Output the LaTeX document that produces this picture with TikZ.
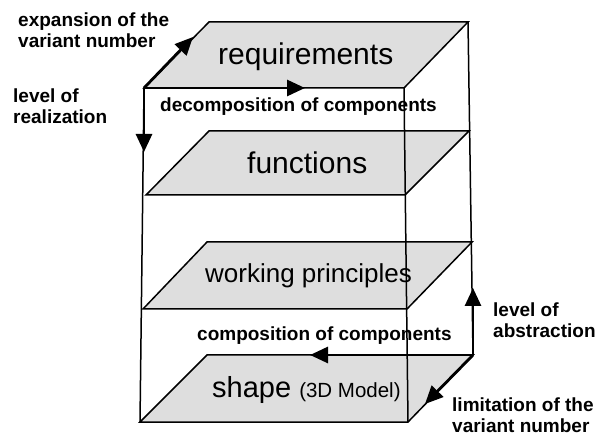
\documentclass[tikz,border=0pt]{standalone}
\usepackage{fontspec}
\setmainfont{Liberation Sans}
\usepackage{tikz}
\usetikzlibrary{arrows.meta}
\newcommand\lvltext{\fontsize{30}{34}\selectfont}
\newcommand\dirtext{\fontsize{19}{21}\selectfont\bfseries}

\begin{document}
\begin{tikzpicture}[x=1pt,y=-1pt]%
        \useasboundingbox (0,0) rectangle (597,435); %%
        \tikzstyle{plane}=[draw,line width=1.5pt,fill=black!13,line join=miter] %%
        \tikzstyle{edge}=[line width=1.5pt] %%
        \tikzstyle{dir}=[line width=2.8pt,-{Triangle[length=18pt,width=16pt]}] %%
        % corners of the planes
        \coordinate (rq1) at (144,88);  \coordinate (rq2) at (404,88); %%
        \coordinate (rq3) at (468,22);  \coordinate (rq4) at (209,22); %%
        \coordinate (fn1) at (146,195); \coordinate (fn2) at (405,195); %%
        \coordinate (fn3) at (469,131); \coordinate (fn4) at (209,131); %%
        \coordinate (wp1) at (143,309); \coordinate (wp2) at (407,309); %%
        \coordinate (wp3) at (472,242); \coordinate (wp4) at (207,242); %%
        \coordinate (sh1) at (140,422); \coordinate (sh2) at (408,422); %%
        \coordinate (sh3) at (473,355); \coordinate (sh4) at (207,355); %%
        \draw[plane] (rq1)--(rq2)--(rq3)--(rq4)--cycle; %%
        \draw[plane] (fn1)--(fn2)--(fn3)--(fn4)--cycle; %%
        \draw[plane] (wp1)--(wp2)--(wp3)--(wp4)--cycle; %%
        \draw[plane] (sh1)--(sh2)--(sh3)--(sh4)--cycle; %%
        \begin{scope}[inner sep=0pt]
        \tikzstyle{every node}=[anchor=base west] %%
        \node (req) at (218,65)  {\lvltext requirements}; %%
        \node (fun) at (247,174) {\lvltext functions}; %%
        \node (wrk) at (205,283) {\fontsize{26}{30}\selectfont working principles}; %%
        \node (shp) at (212,398) {\fontsize{29}{33}\selectfont shape \fontsize{20.5}{24}\selectfont(3D Model)}; %%
        \end{scope}
        \draw[edge] (rq1)--(sh1); %%
        \draw[edge] (rq2)--(sh2); %%
        \draw[edge] (rq3)--(sh3); %%
        \begin{scope}[inner sep=0pt]
        \tikzstyle{every node}=[anchor=base west,align=left,font=\dirtext] %%
        \node (exp) at (18,48)  {expansion of the\\variant number}; %%
        \node (rea) at (13,124) {level of\\realization}; %%
        \node (dec) at (160,112) {decomposition of components}; %%
        \node (com) at (197,341) {composition of components}; %%
        \node (abs) at (493,338) {level of\\abstraction}; %%
        \node (lim) at (452,432) {limitation of the\\variant number}; %%
        \end{scope}
        \coordinate (e1) at (193,37); %%
        \coordinate (e2) at (305,88); %%
        \coordinate (e3) at (144,152); %%
        \coordinate (e4) at (473,288); %%
        \coordinate (e5) at (310,355); %%
        \coordinate (e6) at (425,404); %%
        \draw[dir] (rq1)--(e1); %%
        \draw[dir] (rq1)--(e2); %%
        \draw[dir] (rq1)--(e3); %%
        \draw[dir] (sh3)--(e4); %%
        \draw[dir] (sh3)--(e5); %%
        \draw[dir] (sh3)--(e6); %%
        \end{tikzpicture}
\end{document}
